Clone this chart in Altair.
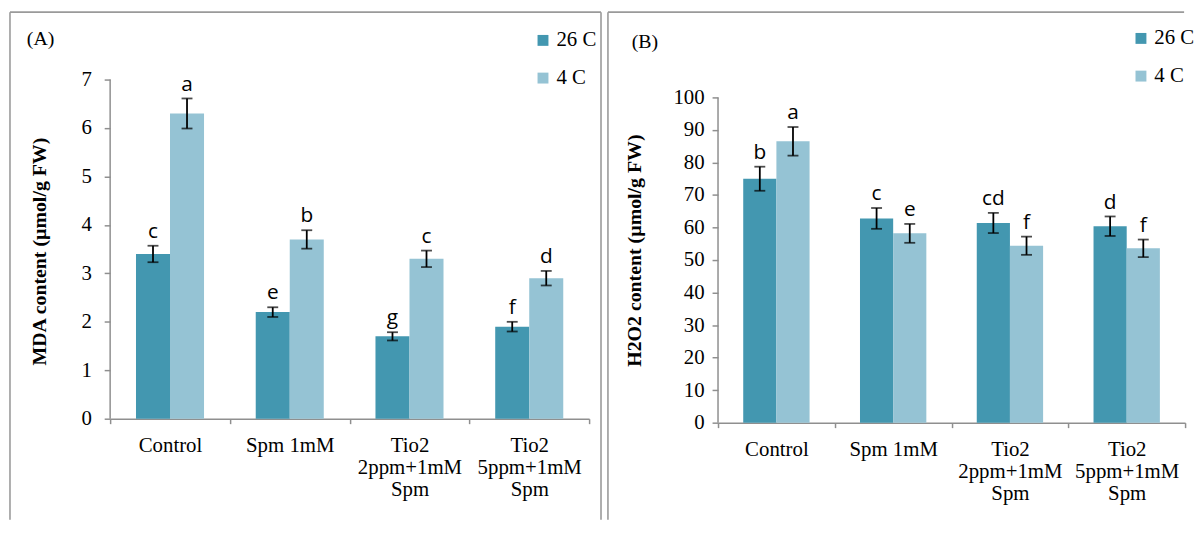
import altair as alt
import pandas as pd

# ---------------- data ----------------
categories = ["Control", "Spm 1mM", "Tio2|2ppm+1mM|Spm", "Tio2|5ppm+1mM|Spm"]
series = ["26 C", "4 C"]

mda_26 = [3.4, 2.2, 1.7, 1.9]
mda_26_err = [0.17, 0.10, 0.085, 0.10]
mda_4 = [6.3, 3.7, 3.3, 2.9]
mda_4_err = [0.31, 0.19, 0.17, 0.15]
mda_26_letters = ["c", "e", "g", "f"]
mda_4_letters = ["a", "b", "c", "d"]

h2o2_26 = [75.0, 62.8, 61.4, 60.4]
h2o2_26_err = [3.7, 3.2, 3.1, 3.0]
h2o2_4 = [86.5, 58.2, 54.4, 53.6]
h2o2_4_err = [4.4, 2.9, 2.8, 2.7]
h2o2_26_letters = ["b", "c", "cd", "d"]
h2o2_4_letters = ["a", "e", "f", "f"]

mda_ticks = [0, 1, 2, 3, 4, 5, 6, 7]
h2o2_ticks = [0, 10, 20, 30, 40, 50, 60, 70, 80, 90, 100]

DARK = "#4397B0"
LIGHT = "#95C3D4"
GRAY = "#8f8f8f"
FRAME = "#9a9a9a"
SERIF = "Liberation Serif"


def make_df(v26, e26, l26, v4, e4, l4):
    rows = []
    for i, c in enumerate(categories):
        rows.append({"cat": c, "series": series[0], "val": v26[i], "err": e26[i], "letter": l26[i]})
        rows.append({"cat": c, "series": series[1], "val": v4[i], "err": e4[i], "letter": l4[i]})
    return pd.DataFrame(rows)


def panel(df, W, H, dom_max, axis_max, yticks, ytitle, ylabelpad, title_x, title_y,
          tag, tag_x, tag_y, leg_x, leg_y, fr_l, fr_t, fr_r, fr_b, right_edge):
    base = alt.Chart(df).transform_calculate(
        lo="datum.val - datum.err", hi="datum.val + datum.err"
    )
    x = alt.X(
        "cat:N", sort=categories, title=None,
        scale=alt.Scale(paddingInner=0, paddingOuter=0),
        axis=alt.Axis(
            tickBand="extent", labelAngle=0, labelExpr="split(datum.label, '|')",
            labelFont=SERIF, labelFontSize=21, labelColor="black", labelLineHeight=22,
            labelPadding=11, tickSize=5, tickColor=GRAY, tickWidth=1.5,
            domainColor=GRAY, domainWidth=1.5, labelBaseline="top",
        ),
    )
    xo = alt.XOffset("series:N", sort=series,
                     scale=alt.Scale(paddingInner=0, paddingOuter=0.76))
    yscale = alt.Scale(domain=[0, dom_max], nice=False, zero=True)
    yaxis = alt.Axis(
        values=yticks, title=ytitle, grid=False, domain=False,
        labelFont=SERIF, labelFontSize=21, labelColor="black", labelPadding=ylabelpad,
        tickSize=6, tickColor=GRAY, tickWidth=1.5,
        titleFont=SERIF, titleFontSize=20, titleFontWeight="bold", titleColor="black",
        titleAngle=270, titleBaseline="alphabetic", titleX=title_x, titleY=title_y,
        titleAlign="center",
    )
    color = alt.Color(
        "series:N", sort=series,
        scale=alt.Scale(domain=series, range=[DARK, LIGHT]),
        legend=alt.Legend(
            title=None, orient="none", legendX=leg_x, legendY=leg_y,
            symbolType="square", symbolSize=121, symbolStrokeWidth=0, symbolOpacity=1,
            labelFont=SERIF, labelFontSize=21, labelColor="black", labelOffset=3,
            rowPadding=16, padding=0,
        ),
    )
    bars = base.mark_bar().encode(
        x=x, xOffset=xo, y=alt.Y("val:Q", scale=yscale, axis=yaxis), color=color)
    err_rule = base.mark_rule(color="black", strokeWidth=1.8).encode(
        x=x, xOffset=xo, y=alt.Y("lo:Q", scale=yscale, axis=yaxis), y2="hi:Q")
    cap_lo = base.mark_tick(color="black", thickness=1.8, size=11).encode(
        x=x, xOffset=xo, y=alt.Y("lo:Q", scale=yscale, axis=yaxis))
    cap_hi = base.mark_tick(color="black", thickness=1.8, size=11).encode(
        x=x, xOffset=xo, y=alt.Y("hi:Q", scale=yscale, axis=yaxis))
    letters = base.mark_text(font="Open Sans", fontSize=21, dy=-8,
                             baseline="alphabetic", color="black").encode(
        x=x, xOffset=xo, y=alt.Y("hi:Q", scale=yscale, axis=yaxis), text="letter:N")

    one = pd.DataFrame({"t": [tag]})
    ydomain = alt.Chart(one).mark_rule(color=GRAY, strokeWidth=1.5).encode(
        x=alt.value(0),
        y=alt.Y(datum=0, type="quantitative", scale=yscale, axis=yaxis),
        y2=alt.Y2(datum=axis_max))
    tag_text = alt.Chart(one).mark_text(font=SERIF, fontSize=20, align="left",
                                        baseline="alphabetic", color="black").encode(
        text="t:N", x=alt.value(tag_x), y=alt.value(tag_y))
    f_left = alt.Chart(one).mark_rule(color=FRAME, strokeWidth=1.6).encode(
        x=alt.value(fr_l), x2=alt.value(fr_l), y=alt.value(fr_t), y2=alt.value(fr_b))
    f_top = alt.Chart(one).mark_rule(color=FRAME, strokeWidth=1.6).encode(
        x=alt.value(fr_l), x2=alt.value(fr_r), y=alt.value(fr_t), y2=alt.value(fr_t))
    layers = [bars, err_rule, cap_lo, cap_hi, letters, ydomain, tag_text, f_left, f_top]
    if right_edge:
        f_right = alt.Chart(one).mark_rule(color=FRAME, strokeWidth=1.6).encode(
            x=alt.value(fr_r), x2=alt.value(fr_r), y=alt.value(fr_t), y2=alt.value(fr_b))
        layers.append(f_right)
    return alt.layer(*layers).properties(width=W, height=H)


df_a = make_df(mda_26, mda_26_err, mda_26_letters, mda_4, mda_4_err, mda_4_letters)
df_b = make_df(h2o2_26, h2o2_26_err, h2o2_26_letters, h2o2_4, h2o2_4_err, h2o2_4_letters)

# left panel: plot origin (111, 79), width 483, height 342
left = panel(df_a, 483, 342, 7, 7, mda_ticks, "MDA content (µmol/g FW)", 13, -65, 173,
             "(A)", -84, -35, 426, -50, -101, -68, 495, 444, True)
# right panel: plot origin (724, 79), width 471, height 346 (100 at 97px)
right = panel(df_b, 471, 346, 100 * 346 / 328, 100, h2o2_ticks, "H2O2 content (µmol/g FW)",
              8, -78, 172, "(B)", -87, -32, 416, -52, -111, -68, 470, 444, False)

chart = alt.hconcat(left, right, spacing=130, bounds="flush").resolve_scale(
    x="independent", y="independent", color="independent", xOffset="independent"
).resolve_legend(color="independent").properties(
    padding={"left": 1, "top": 1, "right": 0, "bottom": 0}
).configure_view(stroke=None)

chart.save("out.html", embed_options={"renderer": "svg", "actions": False})
